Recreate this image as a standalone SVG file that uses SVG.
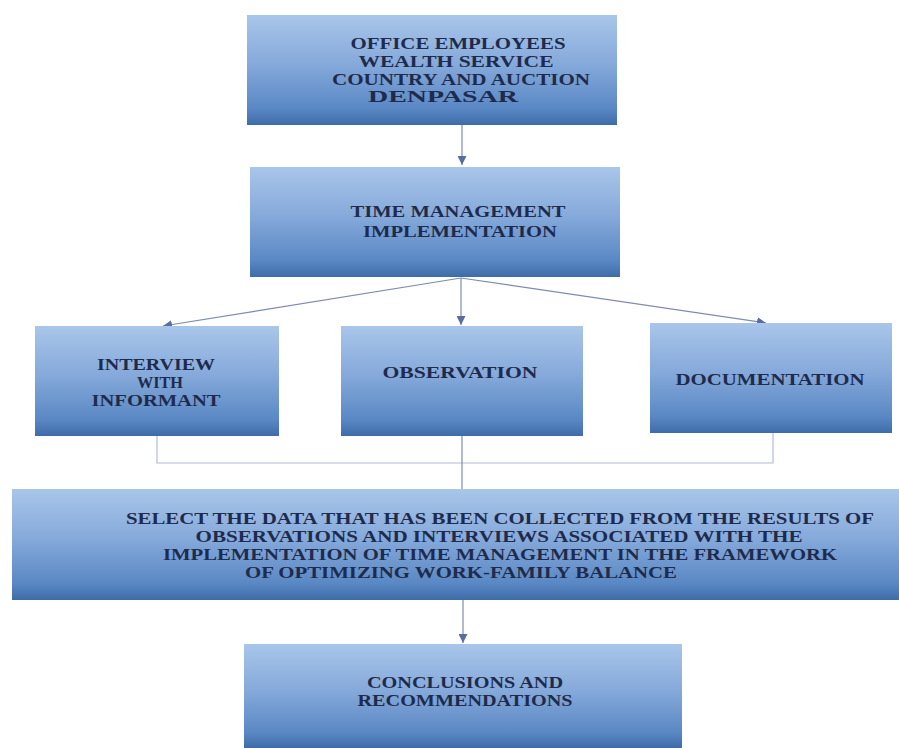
<svg xmlns="http://www.w3.org/2000/svg" width="899" height="748" viewBox="0 0 899 748">
<defs>
<linearGradient id="g" x1="0" y1="0" x2="0" y2="1">
<stop offset="0" stop-color="#a9c6ea"/>
<stop offset="0.45" stop-color="#85a9da"/>
<stop offset="0.85" stop-color="#5a88c4"/>
<stop offset="1" stop-color="#3e6ca9"/>
</linearGradient>
<marker id="ah" viewBox="0 0 10 10" refX="10" refY="5" markerWidth="9" markerHeight="9" markerUnits="userSpaceOnUse" orient="auto">
<path d="M0,0 L10,5 L0,10 Z" fill="#5b6d9e"/>
</marker>
<style>
.box{fill:url(#g);}
.t{font-family:"Liberation Serif","Times New Roman",serif;font-weight:bold;font-size:16px;fill:#1e2b4c;}
.c{fill:none;stroke:#7d8bb3;stroke-width:1.2;}
.b{fill:none;stroke:#b4bcd4;stroke-width:1.2;}
</style>
</defs>
<rect width="899" height="748" fill="#ffffff"/>
<g id="connectors">
<line class="c" x1="462" y1="125" x2="462" y2="165" marker-end="url(#ah)"/>
<line class="c" x1="461" y1="278" x2="163" y2="326" marker-end="url(#ah)"/>
<line class="c" x1="461" y1="278" x2="461" y2="325" marker-end="url(#ah)"/>
<line class="c" x1="461" y1="278" x2="766" y2="323" marker-end="url(#ah)"/>
<polyline class="b" points="157,436 157,463 773,463 773,433"/>
<line class="c" x1="462" y1="436" x2="462" y2="489"/>
<line class="c" x1="463" y1="600" x2="463" y2="643" marker-end="url(#ah)"/>
</g>
<g id="n1">
<rect class="box" x="247" y="15" width="370" height="110"/>
<text class="t" x="458" y="49" text-anchor="middle" textLength="215" lengthAdjust="spacingAndGlyphs">OFFICE EMPLOYEES</text>
<text class="t" x="456" y="67" text-anchor="middle" textLength="195" lengthAdjust="spacingAndGlyphs">WEALTH SERVICE</text>
<text class="t" x="461" y="85" text-anchor="middle" textLength="258" lengthAdjust="spacingAndGlyphs">COUNTRY AND AUCTION</text>
<text class="t" x="443" y="102" text-anchor="middle" textLength="150" lengthAdjust="spacingAndGlyphs">DENPASAR</text>
</g>
<g id="n2">
<rect class="box" x="250" y="167" width="370" height="110"/>
<text class="t" x="458" y="217" text-anchor="middle" textLength="215" lengthAdjust="spacingAndGlyphs">TIME MANAGEMENT</text>
<text class="t" x="460" y="237" text-anchor="middle" textLength="194" lengthAdjust="spacingAndGlyphs">IMPLEMENTATION</text>
</g>
<g id="n3">
<rect class="box" x="35" y="326" width="244" height="110"/>
<text class="t" x="156" y="370" text-anchor="middle" textLength="118" lengthAdjust="spacingAndGlyphs">INTERVIEW</text>
<text class="t" x="160" y="388" text-anchor="middle" textLength="46" lengthAdjust="spacingAndGlyphs">WITH</text>
<text class="t" x="156" y="406" text-anchor="middle" textLength="129" lengthAdjust="spacingAndGlyphs">INFORMANT</text>
</g>
<g id="n4">
<rect class="box" x="341" y="326" width="242" height="110"/>
<text class="t" x="460" y="378" text-anchor="middle" textLength="155" lengthAdjust="spacingAndGlyphs">OBSERVATION</text>
</g>
<g id="n5">
<rect class="box" x="650" y="323" width="242" height="110"/>
<text class="t" x="770" y="385" text-anchor="middle" textLength="189" lengthAdjust="spacingAndGlyphs">DOCUMENTATION</text>
</g>
<g id="n6">
<rect class="box" x="12" y="489" width="887" height="111"/>
<text class="t" x="500" y="524" text-anchor="middle" textLength="748" lengthAdjust="spacingAndGlyphs">SELECT THE DATA THAT HAS BEEN COLLECTED FROM THE RESULTS OF</text>
<text class="t" x="499" y="542" text-anchor="middle" textLength="607" lengthAdjust="spacingAndGlyphs">OBSERVATIONS AND INTERVIEWS ASSOCIATED WITH THE</text>
<text class="t" x="500" y="560" text-anchor="middle" textLength="674" lengthAdjust="spacingAndGlyphs">IMPLEMENTATION OF TIME MANAGEMENT IN THE FRAMEWORK</text>
<text class="t" x="461" y="578" text-anchor="middle" textLength="432" lengthAdjust="spacingAndGlyphs">OF OPTIMIZING WORK-FAMILY BALANCE</text>
</g>
<g id="n7">
<rect class="box" x="244" y="644" width="438" height="104"/>
<text class="t" x="465" y="688" text-anchor="middle" textLength="196" lengthAdjust="spacingAndGlyphs">CONCLUSIONS AND</text>
<text class="t" x="465" y="706" text-anchor="middle" textLength="215" lengthAdjust="spacingAndGlyphs">RECOMMENDATIONS</text>
</g>
</svg>
